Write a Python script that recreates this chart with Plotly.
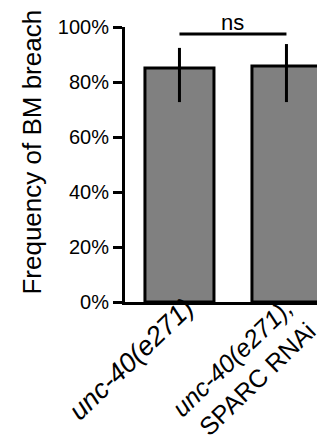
import plotly.graph_objects as go

categories = ["unc-40(e271)", "unc-40(e271); SPARC RNAi"]
tick_labels = ["<i>unc-40(e271)</i>", "<i>unc-40(e271);</i><br>SPARC RNAi"]
values = [85.1, 85.8]
err_plus = [7.3, 8.0]
err_minus = [12.4, 13.1]
y_ticks = [0, 20, 40, 60, 80, 100]
y_tick_labels = ["0%", "20%", "40%", "60%", "80%", "100%"]
y_title = "Frequency of BM breach"
sig_label = "ns"

FONT = "Liberation Sans, Arial, Helvetica, sans-serif"

fig = go.Figure()
fig.add_trace(go.Bar(
    x=categories, y=values, width=0.645,
    marker=dict(color="#808080", line=dict(color="black", width=3)),
    error_y=dict(type="data", symmetric=False, array=err_plus, arrayminus=err_minus,
                 width=0, thickness=3, color="black"),
))

fig.add_shape(type="line", xref="x", yref="y", x0=categories[0], x1=categories[1],
              y0=97.5, y1=97.5, line=dict(color="black", width=3))
fig.add_annotation(x=0.5, xref="x", y=97.5, yref="y", text=sig_label, showarrow=False,
                   yanchor="bottom", yshift=-3, font=dict(size=22, color="black", family=FONT))

# rotated category labels
label_shift = [(22, 11), (36, 10)]
label_sizes = [27, 25]
for cat, txt, (dx, dy), fs in zip(categories, tick_labels, label_shift, label_sizes):
    fig.add_annotation(x=cat, xref="x", y=0, yref="paper", text=txt, showarrow=False,
                       textangle=-44, xanchor="right", yanchor="top", align="right",
                       xshift=dx, yshift=dy, borderpad=0,
                       font=dict(size=fs, color="black", family=FONT))

# y-axis title
fig.add_annotation(x=-0.445, xref="paper", y=0.545, yref="paper", text=y_title, showarrow=False,
                   textangle=-90, xanchor="center", yanchor="middle",
                   font=dict(size=26, color="black", family=FONT))

fig.update_layout(
    width=325, height=448,
    margin=dict(l=117, r=0, t=19, b=154),
    paper_bgcolor="white", plot_bgcolor="white",
    showlegend=False,
    font=dict(family=FONT, color="black"),
)
fig.update_xaxes(
    type="category", range=[-0.509, 1.435],
    showticklabels=False,
    showline=True, linecolor="black", linewidth=3, ticks="", showgrid=False, zeroline=False,
)
fig.update_yaxes(
    range=[0, 100], tickvals=y_ticks, ticktext=y_tick_labels,
    ticks="outside", ticklen=9, tickwidth=3, tickcolor="black",
    tickfont=dict(size=20, family=FONT, color="black"),
    showline=True, linecolor="black", linewidth=3, showgrid=False, zeroline=False,
)

fig.write_html("out.html")
